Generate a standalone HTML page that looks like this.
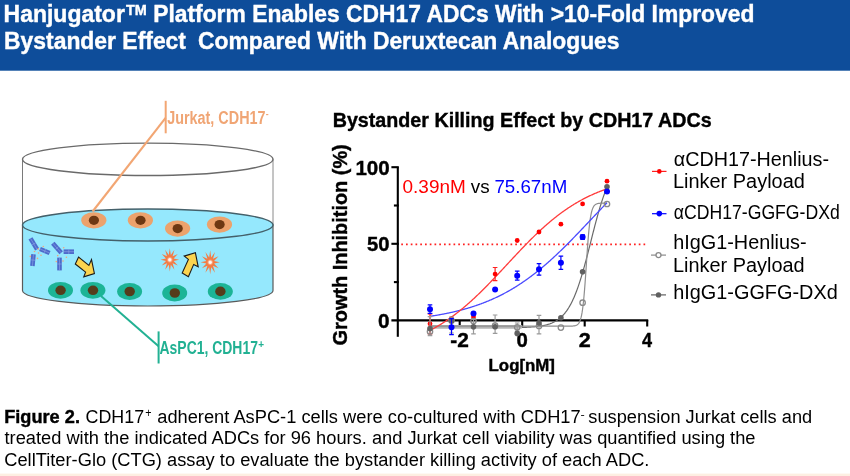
<!DOCTYPE html>
<html><head><meta charset="utf-8"><title>Hanjugator Bystander Effect</title>
<style>
html,body{margin:0;padding:0;background:#fff;}
body{width:850px;height:476px;overflow:hidden;}
svg{display:block;will-change:transform;}
text{font-family:'Liberation Sans', Arial, Helvetica, sans-serif;}
</style></head><body>
<svg width="850" height="476" viewBox="0 0 850 476">
<rect x="0" y="0" width="850" height="476" fill="#fff"/>

<rect x="0" y="0" width="850" height="70.7" fill="#0E4D9A"/>
<text x="3.56" y="21.8" font-size="23.6" font-weight="bold" fill="#fff" stroke="#fff" stroke-width="0.4" textLength="121.29" lengthAdjust="spacingAndGlyphs">Hanjugator</text>
<text x="125.94" y="14.8" font-size="15.2" font-weight="bold" fill="#fff" stroke="#fff" stroke-width="0.4" textLength="20.83" lengthAdjust="spacingAndGlyphs">TM</text>
<text x="153.17" y="21.8" font-size="23.6" font-weight="bold" fill="#fff" stroke="#fff" stroke-width="0.4" textLength="601.23" lengthAdjust="spacingAndGlyphs">Platform Enables CDH17 ADCs With &gt;10-Fold Improved</text>
<text x="4.02" y="48.7" font-size="23.6" font-weight="bold" fill="#fff" stroke="#fff" stroke-width="0.4" textLength="181.96" lengthAdjust="spacingAndGlyphs">Bystander Effect</text>
<text x="198.07" y="48.7" font-size="23.6" font-weight="bold" fill="#fff" stroke="#fff" stroke-width="0.4" textLength="421.47" lengthAdjust="spacingAndGlyphs">Compared With Deruxtecan Analogues</text>
<g>
<line x1="22.5" y1="159.3" x2="22.5" y2="225" stroke="#7a7a7a" stroke-width="1"/>
<line x1="273.0" y1="159.3" x2="273.0" y2="225" stroke="#8a8a8a" stroke-width="1"/>
<ellipse cx="147.75" cy="159.3" rx="125.25" ry="16.2" fill="none" stroke="#6a6a6a" stroke-width="1.4"/>
<path d="M22.5,225 L22.5,290.5 A125.25,15.5 0 0 0 273.0,290.5 L273.0,225 Z" fill="#95E8FD" stroke="#5a5a5a" stroke-width="1.2"/>
<ellipse cx="147.75" cy="225" rx="125.25" ry="16" fill="#95E8FD" stroke="#44606a" stroke-width="1.4"/>
<ellipse cx="93.8" cy="220.3" rx="12.6" ry="8.1" fill="#ECA26C"/><ellipse cx="93.89999999999999" cy="220.3" rx="5.1" ry="4.6" fill="#6E3812"/>
<ellipse cx="140.4" cy="220.3" rx="12.6" ry="8.1" fill="#ECA26C"/><ellipse cx="140.5" cy="220.3" rx="5.1" ry="4.6" fill="#6E3812"/>
<ellipse cx="177.6" cy="228.6" rx="12.6" ry="8.1" fill="#ECA26C"/><ellipse cx="177.7" cy="228.6" rx="5.1" ry="4.6" fill="#6E3812"/>
<ellipse cx="219.5" cy="224.6" rx="12.6" ry="8.1" fill="#ECA26C"/><ellipse cx="219.6" cy="224.6" rx="5.1" ry="4.6" fill="#6E3812"/>
<ellipse cx="60.5" cy="290.3" rx="12.5" ry="8.4" fill="#1CB496"/><ellipse cx="60.6" cy="290.3" rx="5.2" ry="4.8" fill="#553C1C"/>
<ellipse cx="92.9" cy="290.3" rx="12.5" ry="8.4" fill="#1CB496"/><ellipse cx="93.0" cy="290.3" rx="5.2" ry="4.8" fill="#553C1C"/>
<ellipse cx="129.6" cy="291.5" rx="12.5" ry="8.4" fill="#1CB496"/><ellipse cx="129.7" cy="291.5" rx="5.2" ry="4.8" fill="#553C1C"/>
<ellipse cx="174.7" cy="293.0" rx="12.5" ry="8.4" fill="#1CB496"/><ellipse cx="174.79999999999998" cy="293.0" rx="5.2" ry="4.8" fill="#553C1C"/>
<ellipse cx="220.3" cy="291.4" rx="12.5" ry="8.4" fill="#1CB496"/><ellipse cx="220.4" cy="291.4" rx="5.2" ry="4.8" fill="#553C1C"/>
<line x1="30.50" y1="238.40" x2="37.10" y2="249.40" stroke="#4D6BCB" stroke-width="4.6"/><line x1="30.50" y1="238.40" x2="37.10" y2="249.40" stroke="#8FA6E6" stroke-width="0.6"/><line x1="31.83" y1="245.08" x2="35.77" y2="242.72" stroke="#8FA6E6" stroke-width="0.6"/><line x1="40.00" y1="249.00" x2="49.60" y2="253.00" stroke="#4D6BCB" stroke-width="4.6"/><line x1="40.00" y1="249.00" x2="49.60" y2="253.00" stroke="#8FA6E6" stroke-width="0.6"/><line x1="43.92" y1="253.12" x2="45.68" y2="248.88" stroke="#8FA6E6" stroke-width="0.6"/><line x1="33.50" y1="254.20" x2="32.40" y2="266.00" stroke="#4D6BCB" stroke-width="4.6"/><line x1="33.50" y1="254.20" x2="32.40" y2="266.00" stroke="#8FA6E6" stroke-width="0.6"/><line x1="30.66" y1="259.89" x2="35.24" y2="260.31" stroke="#8FA6E6" stroke-width="0.6"/>
<line x1="52.80" y1="243.20" x2="61.20" y2="252.80" stroke="#4D6BCB" stroke-width="4.6"/><line x1="52.80" y1="243.20" x2="61.20" y2="252.80" stroke="#8FA6E6" stroke-width="0.6"/><line x1="55.27" y1="249.51" x2="58.73" y2="246.49" stroke="#8FA6E6" stroke-width="0.6"/><line x1="63.60" y1="251.70" x2="74.00" y2="251.70" stroke="#4D6BCB" stroke-width="4.6"/><line x1="63.60" y1="251.70" x2="74.00" y2="251.70" stroke="#8FA6E6" stroke-width="0.6"/><line x1="68.80" y1="254.00" x2="68.80" y2="249.40" stroke="#8FA6E6" stroke-width="0.6"/><line x1="59.50" y1="257.60" x2="59.50" y2="270.40" stroke="#4D6BCB" stroke-width="4.6"/><line x1="59.50" y1="257.60" x2="59.50" y2="270.40" stroke="#8FA6E6" stroke-width="0.6"/><line x1="57.20" y1="264.00" x2="61.80" y2="264.00" stroke="#8FA6E6" stroke-width="0.6"/>
<circle cx="38.3" cy="248.9" r="0.8" fill="#F2A57A"/>
<circle cx="43.3" cy="246.5" r="0.8" fill="#F2A57A"/>
<circle cx="34.5" cy="251.5" r="0.8" fill="#F2A57A"/>
<circle cx="38.5" cy="253" r="0.8" fill="#F2A57A"/>
<circle cx="30.3" cy="256.4" r="0.8" fill="#F2A57A"/>
<circle cx="37.5" cy="258.4" r="0.8" fill="#F2A57A"/>
<circle cx="41" cy="255.3" r="0.8" fill="#F2A57A"/>
<circle cx="63.7" cy="247.8" r="0.8" fill="#F2A57A"/>
<circle cx="66.4" cy="257.3" r="0.8" fill="#F2A57A"/>
<circle cx="56.3" cy="261.6" r="0.8" fill="#F2A57A"/>
<circle cx="63" cy="261" r="0.8" fill="#F2A57A"/>
<circle cx="57.7" cy="255.6" r="0.8" fill="#F2A57A"/>
<path d="M78.6,257 L75.3,264 L85.6,272.1 L83.75,276.8 L94.4,273.5 L91.5,259.6 L88.9,265.4 Z" fill="#FBD44F" stroke="#1a1a1a" stroke-width="1.1" stroke-linejoin="miter"/>
<path d="M182.2,273 L188.4,276.7 L193.7,264.4 L198.2,266.8 L195.4,252.8 L184.2,256.1 L188.4,259.4 Z" fill="#FBD44F" stroke="#1a1a1a" stroke-width="1.1"/>
<defs><radialGradient id="sg"><stop offset="0" stop-color="#fff"/><stop offset="0.35" stop-color="#fff" stop-opacity="0.9"/><stop offset="1" stop-color="#F47D46" stop-opacity="0"/></radialGradient></defs>
<path d="M169.80,248.20 L170.84,254.97 L174.44,249.75 L172.63,256.26 L177.84,254.00 L173.66,258.51 L179.08,259.80 L173.66,261.09 L177.84,265.60 L172.63,263.34 L174.44,269.85 L170.84,264.63 L169.80,271.40 L168.76,264.63 L165.16,269.85 L166.97,263.34 L161.76,265.60 L165.94,261.09 L160.52,259.80 L165.94,258.51 L161.76,254.00 L166.97,256.26 L165.16,249.75 L168.76,254.97Z" fill="#F47C45"/>
<circle cx="169.8" cy="259.8" r="3.6" fill="url(#sg)"/>
<path d="M210.20,250.30 L211.24,257.47 L215.00,251.91 L213.03,258.76 L218.51,256.30 L214.06,261.01 L219.80,262.30 L214.06,263.59 L218.51,268.30 L213.03,265.84 L215.00,272.69 L211.24,267.13 L210.20,274.30 L209.16,267.13 L205.40,272.69 L207.37,265.84 L201.89,268.30 L206.34,263.59 L200.60,262.30 L206.34,261.01 L201.89,256.30 L207.37,258.76 L205.40,251.91 L209.16,257.47Z" fill="#F47C45"/>
<circle cx="210.2" cy="262.3" r="3.6" fill="url(#sg)"/>
<line x1="92.6" y1="211.5" x2="165.6" y2="117.8" stroke="#F2A673" stroke-width="2.1"/>
<line x1="165.7" y1="100.8" x2="165.7" y2="133.3" stroke="#F2A673" stroke-width="2"/>
<line x1="101" y1="296" x2="158.6" y2="346.2" stroke="#22B193" stroke-width="2"/>
<line x1="158.6" y1="331.4" x2="158.6" y2="363.5" stroke="#22B193" stroke-width="2"/>
<text x="167.18" y="123.7" font-size="18" font-weight="bold" fill="#F0A574" textLength="98.35" lengthAdjust="spacingAndGlyphs">Jurkat, CDH17</text>
<text x="265.86" y="117.3" font-size="9" font-weight="bold" fill="#F0A574" textLength="2.89" lengthAdjust="spacingAndGlyphs">-</text>
<text x="159.55" y="353.8" font-size="18" font-weight="bold" fill="#22B193" textLength="98.36" lengthAdjust="spacingAndGlyphs">AsPC1, CDH17</text>
<text x="258.28" y="348.3" font-size="11" font-weight="bold" fill="#22B193" textLength="5.82" lengthAdjust="spacingAndGlyphs">+</text>
</g>
<g>
<text x="332.69" y="127" font-size="21" font-weight="bold" fill="#000" stroke="#000" stroke-width="0.4" textLength="378.92" lengthAdjust="spacingAndGlyphs">Bystander Killing Effect by CDH17 ADCs</text>
<text x="-345.42" y="347.4" font-size="20" font-weight="bold" fill="#000" stroke="#000" stroke-width="0.4" textLength="201.11" lengthAdjust="spacingAndGlyphs" transform="rotate(-90)">Growth Inhibition (%)</text>
<path d="M397.8,167.2 L397.8,336.8" stroke="#000" stroke-width="2.1" fill="none"/>
<path d="M391.4,320.4 L648.2,320.4" stroke="#000" stroke-width="2.1" fill="none"/>
<path d="M391.4,167.2 L398.8,167.2" stroke="#000" stroke-width="2.1"/>
<path d="M391.4,243.8 L398.8,243.8" stroke="#000" stroke-width="2.1"/>
<path d="M393.9,205.5 L398.8,205.5" stroke="#000" stroke-width="2.1"/>
<path d="M393.9,282.1 L398.8,282.1" stroke="#000" stroke-width="2.1"/>
<path d="M459.7,320 L459.7,326.5" stroke="#000" stroke-width="2.1"/>
<path d="M522.2,320 L522.2,326.5" stroke="#000" stroke-width="2.1"/>
<path d="M584.7,320 L584.7,326.5" stroke="#000" stroke-width="2.1"/>
<path d="M647.2,320 L647.2,326.5" stroke="#000" stroke-width="2.1"/>
<text x="355.4" y="174.7" font-size="20.8" font-weight="bold" fill="#000" stroke="#000" stroke-width="0.4" textLength="34.34" lengthAdjust="spacingAndGlyphs">100</text>
<text x="366.88" y="250.9" font-size="20.8" font-weight="bold" fill="#000" stroke="#000" stroke-width="0.4" textLength="22.56" lengthAdjust="spacingAndGlyphs">50</text>
<text x="378.08" y="327.7" font-size="20.8" font-weight="bold" fill="#000" stroke="#000" stroke-width="0.4" textLength="11.58" lengthAdjust="spacingAndGlyphs">0</text>
<text x="450.19" y="347.3" font-size="20.8" font-weight="bold" fill="#000" stroke="#000" stroke-width="0.4" textLength="18.55" lengthAdjust="spacingAndGlyphs">-2</text>
<text x="516.39" y="347.3" font-size="20.8" font-weight="bold" fill="#000" stroke="#000" stroke-width="0.4" textLength="11.34" lengthAdjust="spacingAndGlyphs">0</text>
<text x="578.75" y="347.3" font-size="20.8" font-weight="bold" fill="#000" stroke="#000" stroke-width="0.4" textLength="12.01" lengthAdjust="spacingAndGlyphs">2</text>
<text x="641.93" y="347.3" font-size="20.8" font-weight="bold" fill="#000" stroke="#000" stroke-width="0.4" textLength="10.07" lengthAdjust="spacingAndGlyphs">4</text>
<text x="488.57" y="371" font-size="16.2" font-weight="bold" fill="#000" stroke="#000" stroke-width="0.4" textLength="66.37" lengthAdjust="spacingAndGlyphs">Log[nM]</text>
<path d="M401.25,244.3 L645.3,244.3" stroke="#FF2020" stroke-width="1.7" stroke-dasharray="1.7 3.05" fill="none"/>
<text x="402.56" y="192.8" font-size="18.2" fill="#FF0000" textLength="63.19" lengthAdjust="spacingAndGlyphs">0.39nM</text>
<text x="470.74" y="192.8" font-size="18.2" fill="#000" textLength="18.85" lengthAdjust="spacingAndGlyphs">vs</text>
<text x="494.44" y="192.8" font-size="18.2" fill="#0000FF" textLength="72.79" lengthAdjust="spacingAndGlyphs">75.67nM</text>
<path d="M430.0,327.76 L430.5,327.76 L431.0,327.76 L431.5,327.76 L432.0,327.76 L432.5,327.76 L433.0,327.76 L433.5,327.76 L434.0,327.76 L434.5,327.76 L435.0,327.76 L435.5,327.76 L436.0,327.76 L436.5,327.76 L437.0,327.76 L437.5,327.76 L438.0,327.76 L438.5,327.76 L439.0,327.76 L439.5,327.76 L440.0,327.76 L440.5,327.76 L441.0,327.76 L441.5,327.76 L442.0,327.76 L442.5,327.76 L443.0,327.76 L443.5,327.76 L444.0,327.76 L444.5,327.76 L445.0,327.76 L445.5,327.76 L446.0,327.76 L446.5,327.76 L447.0,327.76 L447.5,327.76 L448.0,327.76 L448.5,327.76 L449.0,327.76 L449.5,327.76 L450.0,327.76 L450.5,327.76 L451.0,327.76 L451.5,327.76 L452.0,327.76 L452.5,327.76 L453.0,327.76 L453.5,327.76 L454.0,327.76 L454.5,327.76 L455.0,327.76 L455.5,327.76 L456.0,327.76 L456.5,327.76 L457.0,327.76 L457.5,327.76 L458.0,327.76 L458.5,327.76 L459.0,327.76 L459.5,327.76 L460.0,327.76 L460.5,327.76 L461.0,327.76 L461.5,327.76 L462.0,327.76 L462.5,327.76 L463.0,327.76 L463.5,327.76 L464.0,327.76 L464.5,327.75 L465.0,327.75 L465.5,327.75 L466.0,327.75 L466.5,327.75 L467.0,327.75 L467.5,327.75 L468.0,327.75 L468.5,327.75 L469.0,327.75 L469.5,327.75 L470.0,327.75 L470.5,327.75 L471.0,327.75 L471.5,327.75 L472.0,327.75 L472.5,327.75 L473.0,327.75 L473.5,327.75 L474.0,327.75 L474.5,327.75 L475.0,327.75 L475.5,327.75 L476.0,327.75 L476.5,327.75 L477.0,327.75 L477.5,327.75 L478.0,327.75 L478.5,327.75 L479.0,327.75 L479.5,327.75 L480.0,327.75 L480.5,327.75 L481.0,327.75 L481.5,327.75 L482.0,327.75 L482.5,327.75 L483.0,327.75 L483.5,327.75 L484.0,327.75 L484.5,327.75 L485.0,327.75 L485.5,327.75 L486.0,327.75 L486.5,327.74 L487.0,327.74 L487.5,327.74 L488.0,327.74 L488.5,327.74 L489.0,327.74 L489.5,327.74 L490.0,327.74 L490.5,327.74 L491.0,327.74 L491.5,327.74 L492.0,327.74 L492.5,327.74 L493.0,327.73 L493.5,327.73 L494.0,327.73 L494.5,327.73 L495.0,327.73 L495.5,327.73 L496.0,327.73 L496.5,327.73 L497.0,327.73 L497.5,327.72 L498.0,327.72 L498.5,327.72 L499.0,327.72 L499.5,327.72 L500.0,327.72 L500.5,327.71 L501.0,327.71 L501.5,327.71 L502.0,327.71 L502.5,327.70 L503.0,327.70 L503.5,327.70 L504.0,327.70 L504.5,327.69 L505.0,327.69 L505.5,327.69 L506.0,327.68 L506.5,327.68 L507.0,327.68 L507.5,327.67 L508.0,327.67 L508.5,327.67 L509.0,327.66 L509.5,327.66 L510.0,327.65 L510.5,327.65 L511.0,327.64 L511.5,327.64 L512.0,327.63 L512.5,327.63 L513.0,327.62 L513.5,327.61 L514.0,327.61 L514.5,327.60 L515.0,327.59 L515.5,327.58 L516.0,327.58 L516.5,327.57 L517.0,327.56 L517.5,327.55 L518.0,327.54 L518.5,327.53 L519.0,327.52 L519.5,327.51 L520.0,327.50 L520.5,327.49 L521.0,327.47 L521.5,327.46 L522.0,327.45 L522.5,327.43 L523.0,327.42 L523.5,327.40 L524.0,327.38 L524.5,327.36 L525.0,327.35 L525.5,327.33 L526.0,327.31 L526.5,327.29 L527.0,327.26 L527.5,327.24 L528.0,327.22 L528.5,327.19 L529.0,327.17 L529.5,327.14 L530.0,327.11 L530.5,327.08 L531.0,327.05 L531.5,327.01 L532.0,326.98 L532.5,326.94 L533.0,326.90 L533.5,326.86 L534.0,326.82 L534.5,326.78 L535.0,326.73 L535.5,326.69 L536.0,326.64 L536.5,326.58 L537.0,326.53 L537.5,326.47 L538.0,326.41 L538.5,326.35 L539.0,326.28 L539.5,326.22 L540.0,326.14 L540.5,326.07 L541.0,325.99 L541.5,325.91 L542.0,325.82 L542.5,325.73 L543.0,325.64 L543.5,325.54 L544.0,325.44 L544.5,325.33 L545.0,325.22 L545.5,325.10 L546.0,324.98 L546.5,324.85 L547.0,324.72 L547.5,324.58 L548.0,324.43 L548.5,324.28 L549.0,324.12 L549.5,323.95 L550.0,323.78 L550.5,323.59 L551.0,323.40 L551.5,323.20 L552.0,323.00 L552.5,322.78 L553.0,322.55 L553.5,322.32 L554.0,322.07 L554.5,321.81 L555.0,321.54 L555.5,321.26 L556.0,320.97 L556.5,320.66 L557.0,320.34 L557.5,320.01 L558.0,319.66 L558.5,319.30 L559.0,318.93 L559.5,318.53 L560.0,318.12 L560.5,317.70 L561.0,317.26 L561.5,316.79 L562.0,316.31 L562.5,315.81 L563.0,315.29 L563.5,314.75 L564.0,314.19 L564.5,313.60 L565.0,313.00 L565.5,312.37 L566.0,311.71 L566.5,311.03 L567.0,310.32 L567.5,309.59 L568.0,308.83 L568.5,308.05 L569.0,307.23 L569.5,306.39 L570.0,305.51 L570.5,304.61 L571.0,303.67 L571.5,302.71 L572.0,301.71 L572.5,300.68 L573.0,299.61 L573.5,298.52 L574.0,297.39 L574.5,296.22 L575.0,295.02 L575.5,293.79 L576.0,292.52 L576.5,291.22 L577.0,289.88 L577.5,288.50 L578.0,287.10 L578.5,285.65 L579.0,284.18 L579.5,282.67 L580.0,281.12 L580.5,279.54 L581.0,277.94 L581.5,276.30 L582.0,274.62 L582.5,272.92 L583.0,271.19 L583.5,269.44 L584.0,267.65 L584.5,265.85 L585.0,264.01 L585.5,262.16 L586.0,260.29 L586.5,258.40 L587.0,256.49 L587.5,254.56 L588.0,252.62 L588.5,250.67 L589.0,248.72 L589.5,246.75 L590.0,244.78 L590.5,242.80 L591.0,240.83 L591.5,238.85 L592.0,236.88 L592.5,234.91 L593.0,232.95 L593.5,231.00 L594.0,229.06 L594.5,227.13 L595.0,225.22 L595.5,223.32 L596.0,221.45 L596.5,219.59 L597.0,217.75 L597.5,215.94 L598.0,214.15 L598.5,212.39 L599.0,210.65 L599.5,208.95 L600.0,207.27 L600.5,205.62 L601.0,204.01 L601.5,202.43 L602.0,200.87 L602.5,199.36 L603.0,197.87 L603.5,196.42 L604.0,195.01 L604.5,193.63 L605.0,192.28 L605.5,190.97 L606.0,189.70 L606.5,188.46 L607.0,187.25" fill="none" stroke="#6a6a6a" stroke-width="1.2"/>
<path d="M430,326.7 L522,326.7" stroke="#B4B4B4" stroke-width="3.6" fill="none"/>
<path d="M430.0,326.20 L430.5,326.20 L431.0,326.20 L431.5,326.20 L432.0,326.20 L432.5,326.20 L433.0,326.20 L433.5,326.20 L434.0,326.20 L434.5,326.20 L435.0,326.20 L435.5,326.20 L436.0,326.20 L436.5,326.20 L437.0,326.20 L437.5,326.20 L438.0,326.20 L438.5,326.20 L439.0,326.20 L439.5,326.20 L440.0,326.20 L440.5,326.20 L441.0,326.20 L441.5,326.20 L442.0,326.20 L442.5,326.20 L443.0,326.20 L443.5,326.20 L444.0,326.20 L444.5,326.20 L445.0,326.20 L445.5,326.20 L446.0,326.20 L446.5,326.20 L447.0,326.20 L447.5,326.20 L448.0,326.20 L448.5,326.20 L449.0,326.20 L449.5,326.20 L450.0,326.20 L450.5,326.20 L451.0,326.20 L451.5,326.20 L452.0,326.20 L452.5,326.20 L453.0,326.20 L453.5,326.20 L454.0,326.20 L454.5,326.20 L455.0,326.20 L455.5,326.20 L456.0,326.20 L456.5,326.20 L457.0,326.20 L457.5,326.20 L458.0,326.20 L458.5,326.20 L459.0,326.20 L459.5,326.20 L460.0,326.20 L460.5,326.20 L461.0,326.20 L461.5,326.20 L462.0,326.20 L462.5,326.20 L463.0,326.20 L463.5,326.20 L464.0,326.20 L464.5,326.20 L465.0,326.20 L465.5,326.20 L466.0,326.20 L466.5,326.20 L467.0,326.20 L467.5,326.20 L468.0,326.20 L468.5,326.20 L469.0,326.20 L469.5,326.20 L470.0,326.20 L470.5,326.20 L471.0,326.20 L471.5,326.20 L472.0,326.20 L472.5,326.20 L473.0,326.20 L473.5,326.20 L474.0,326.20 L474.5,326.20 L475.0,326.20 L475.5,326.20 L476.0,326.20 L476.5,326.20 L477.0,326.20 L477.5,326.20 L478.0,326.20 L478.5,326.20 L479.0,326.20 L479.5,326.20 L480.0,326.20 L480.5,326.20 L481.0,326.20 L481.5,326.20 L482.0,326.20 L482.5,326.20 L483.0,326.20 L483.5,326.20 L484.0,326.20 L484.5,326.20 L485.0,326.20 L485.5,326.20 L486.0,326.20 L486.5,326.20 L487.0,326.20 L487.5,326.20 L488.0,326.20 L488.5,326.20 L489.0,326.20 L489.5,326.20 L490.0,326.20 L490.5,326.20 L491.0,326.20 L491.5,326.20 L492.0,326.20 L492.5,326.20 L493.0,326.20 L493.5,326.20 L494.0,326.20 L494.5,326.20 L495.0,326.20 L495.5,326.20 L496.0,326.20 L496.5,326.20 L497.0,326.20 L497.5,326.20 L498.0,326.20 L498.5,326.20 L499.0,326.20 L499.5,326.20 L500.0,326.20 L500.5,326.20 L501.0,326.20 L501.5,326.20 L502.0,326.20 L502.5,326.20 L503.0,326.20 L503.5,326.20 L504.0,326.20 L504.5,326.20 L505.0,326.20 L505.5,326.20 L506.0,326.20 L506.5,326.20 L507.0,326.20 L507.5,326.20 L508.0,326.20 L508.5,326.20 L509.0,326.20 L509.5,326.20 L510.0,326.20 L510.5,326.20 L511.0,326.20 L511.5,326.20 L512.0,326.20 L512.5,326.20 L513.0,326.20 L513.5,326.20 L514.0,326.20 L514.5,326.20 L515.0,326.20 L515.5,326.20 L516.0,326.20 L516.5,326.20 L517.0,326.20 L517.5,326.20 L518.0,326.20 L518.5,326.20 L519.0,326.20 L519.5,326.20 L520.0,326.20 L520.5,326.20 L521.0,326.20 L521.5,326.20 L522.0,326.20 L522.5,326.20 L523.0,326.20 L523.5,326.20 L524.0,326.20 L524.5,326.20 L525.0,326.20 L525.5,326.20 L526.0,326.20 L526.5,326.20 L527.0,326.20 L527.5,326.20 L528.0,326.20 L528.5,326.20 L529.0,326.20 L529.5,326.20 L530.0,326.20 L530.5,326.20 L531.0,326.20 L531.5,326.20 L532.0,326.20 L532.5,326.20 L533.0,326.20 L533.5,326.20 L534.0,326.20 L534.5,326.20 L535.0,326.20 L535.5,326.20 L536.0,326.20 L536.5,326.20 L537.0,326.20 L537.5,326.20 L538.0,326.20 L538.5,326.20 L539.0,326.20 L539.5,326.20 L540.0,326.20 L540.5,326.20 L541.0,326.20 L541.5,326.20 L542.0,326.20 L542.5,326.20 L543.0,326.20 L543.5,326.20 L544.0,326.20 L544.5,326.20 L545.0,326.20 L545.5,326.20 L546.0,326.20 L546.5,326.20 L547.0,326.20 L547.5,326.20 L548.0,326.20 L548.5,326.20 L549.0,326.20 L549.5,326.20 L550.0,326.20 L550.5,326.20 L551.0,326.20 L551.5,326.20 L552.0,326.20 L552.5,326.20 L553.0,326.20 L553.5,326.20 L554.0,326.20 L554.5,326.20 L555.0,326.20 L555.5,326.20 L556.0,326.20 L556.5,326.20 L557.0,326.20 L557.5,326.20 L558.0,326.20 L558.5,326.20 L559.0,326.20 L559.5,326.20 L560.0,326.20 L560.5,326.20 L561.0,326.20 L561.5,326.20 L562.0,326.20 L562.5,326.20 L563.0,326.20 L563.5,326.20 L564.0,326.20 L564.5,326.20 L565.0,326.20 L565.5,326.20 L566.0,326.19 L566.5,326.19 L567.0,326.19 L567.5,326.19 L568.0,326.18 L568.5,326.18 L569.0,326.17 L569.5,326.17 L570.0,326.16 L570.5,326.15 L571.0,326.13 L571.5,326.11 L572.0,326.09 L572.5,326.06 L573.0,326.02 L573.5,325.96 L574.0,325.90 L574.5,325.82 L575.0,325.71 L575.5,325.58 L576.0,325.41 L576.5,325.19 L577.0,324.91 L577.5,324.56 L578.0,324.12 L578.5,323.55 L579.0,322.84 L579.5,321.95 L580.0,320.83 L580.5,319.42 L581.0,317.68 L581.5,315.53 L582.0,312.91 L582.5,309.73 L583.0,305.93 L583.5,301.45 L584.0,296.28 L584.5,290.42 L585.0,283.94 L585.5,276.94 L586.0,269.59 L586.5,262.10 L587.0,254.68 L587.5,247.55 L588.0,240.88 L588.5,234.81 L589.0,229.42 L589.5,224.72 L590.0,220.71 L590.5,217.34 L591.0,214.55 L591.5,212.25 L592.0,210.39 L592.5,208.88 L593.0,207.68 L593.5,206.72 L594.0,205.95 L594.5,205.34 L595.0,204.86 L595.5,204.49 L596.0,204.19 L596.5,203.95 L597.0,203.77 L597.5,203.62 L598.0,203.51 L598.5,203.42 L599.0,203.35 L599.5,203.29 L600.0,203.25 L600.5,203.22 L601.0,203.19 L601.5,203.17 L602.0,203.15 L602.5,203.14 L603.0,203.13 L603.5,203.12 L604.0,203.12 L604.5,203.11 L605.0,203.11 L605.5,203.10 L606.0,203.10 L606.5,203.10 L607.0,203.10" fill="none" stroke="#8E8E8E" stroke-width="1.2"/>
<path d="M430.0,316.30 L430.5,316.22 L431.0,316.15 L431.5,316.07 L432.0,316.00 L432.5,315.92 L433.0,315.84 L433.5,315.76 L434.0,315.68 L434.5,315.60 L435.0,315.52 L435.5,315.44 L436.0,315.36 L436.5,315.27 L437.0,315.19 L437.5,315.10 L438.0,315.02 L438.5,314.93 L439.0,314.84 L439.5,314.75 L440.0,314.67 L440.5,314.58 L441.0,314.48 L441.5,314.39 L442.0,314.30 L442.5,314.21 L443.0,314.11 L443.5,314.02 L444.0,313.92 L444.5,313.82 L445.0,313.73 L445.5,313.63 L446.0,313.53 L446.5,313.43 L447.0,313.33 L447.5,313.22 L448.0,313.12 L448.5,313.02 L449.0,312.91 L449.5,312.81 L450.0,312.70 L450.5,312.59 L451.0,312.48 L451.5,312.37 L452.0,312.26 L452.5,312.15 L453.0,312.03 L453.5,311.92 L454.0,311.80 L454.5,311.69 L455.0,311.57 L455.5,311.45 L456.0,311.33 L456.5,311.21 L457.0,311.09 L457.5,310.97 L458.0,310.84 L458.5,310.72 L459.0,310.59 L459.5,310.47 L460.0,310.34 L460.5,310.21 L461.0,310.08 L461.5,309.95 L462.0,309.81 L462.5,309.68 L463.0,309.54 L463.5,309.41 L464.0,309.27 L464.5,309.13 L465.0,308.99 L465.5,308.85 L466.0,308.71 L466.5,308.56 L467.0,308.42 L467.5,308.27 L468.0,308.12 L468.5,307.97 L469.0,307.82 L469.5,307.67 L470.0,307.52 L470.5,307.36 L471.0,307.21 L471.5,307.05 L472.0,306.89 L472.5,306.73 L473.0,306.57 L473.5,306.41 L474.0,306.25 L474.5,306.08 L475.0,305.92 L475.5,305.75 L476.0,305.58 L476.5,305.41 L477.0,305.23 L477.5,305.06 L478.0,304.89 L478.5,304.71 L479.0,304.53 L479.5,304.35 L480.0,304.17 L480.5,303.99 L481.0,303.80 L481.5,303.62 L482.0,303.43 L482.5,303.24 L483.0,303.05 L483.5,302.86 L484.0,302.67 L484.5,302.47 L485.0,302.28 L485.5,302.08 L486.0,301.88 L486.5,301.68 L487.0,301.47 L487.5,301.27 L488.0,301.06 L488.5,300.85 L489.0,300.65 L489.5,300.43 L490.0,300.22 L490.5,300.01 L491.0,299.79 L491.5,299.57 L492.0,299.35 L492.5,299.13 L493.0,298.91 L493.5,298.68 L494.0,298.46 L494.5,298.23 L495.0,298.00 L495.5,297.77 L496.0,297.53 L496.5,297.30 L497.0,297.06 L497.5,296.82 L498.0,296.58 L498.5,296.34 L499.0,296.09 L499.5,295.85 L500.0,295.60 L500.5,295.35 L501.0,295.10 L501.5,294.84 L502.0,294.59 L502.5,294.33 L503.0,294.07 L503.5,293.81 L504.0,293.54 L504.5,293.28 L505.0,293.01 L505.5,292.74 L506.0,292.47 L506.5,292.20 L507.0,291.93 L507.5,291.65 L508.0,291.37 L508.5,291.09 L509.0,290.81 L509.5,290.52 L510.0,290.24 L510.5,289.95 L511.0,289.66 L511.5,289.36 L512.0,289.07 L512.5,288.77 L513.0,288.47 L513.5,288.17 L514.0,287.87 L514.5,287.57 L515.0,287.26 L515.5,286.95 L516.0,286.64 L516.5,286.33 L517.0,286.01 L517.5,285.70 L518.0,285.38 L518.5,285.06 L519.0,284.73 L519.5,284.41 L520.0,284.08 L520.5,283.75 L521.0,283.42 L521.5,283.09 L522.0,282.75 L522.5,282.41 L523.0,282.07 L523.5,281.73 L524.0,281.39 L524.5,281.04 L525.0,280.69 L525.5,280.34 L526.0,279.99 L526.5,279.64 L527.0,279.28 L527.5,278.92 L528.0,278.56 L528.5,278.20 L529.0,277.83 L529.5,277.47 L530.0,277.10 L530.5,276.73 L531.0,276.36 L531.5,275.98 L532.0,275.60 L532.5,275.22 L533.0,274.84 L533.5,274.46 L534.0,274.07 L534.5,273.69 L535.0,273.30 L535.5,272.91 L536.0,272.51 L536.5,272.12 L537.0,271.72 L537.5,271.32 L538.0,270.92 L538.5,270.51 L539.0,270.11 L539.5,269.70 L540.0,269.29 L540.5,268.88 L541.0,268.47 L541.5,268.05 L542.0,267.63 L542.5,267.21 L543.0,266.79 L543.5,266.37 L544.0,265.94 L544.5,265.52 L545.0,265.09 L545.5,264.66 L546.0,264.22 L546.5,263.79 L547.0,263.35 L547.5,262.91 L548.0,262.47 L548.5,262.03 L549.0,261.58 L549.5,261.14 L550.0,260.69 L550.5,260.24 L551.0,259.79 L551.5,259.34 L552.0,258.88 L552.5,258.42 L553.0,257.97 L553.5,257.51 L554.0,257.04 L554.5,256.58 L555.0,256.12 L555.5,255.65 L556.0,255.18 L556.5,254.71 L557.0,254.24 L557.5,253.77 L558.0,253.29 L558.5,252.81 L559.0,252.34 L559.5,251.86 L560.0,251.38 L560.5,250.89 L561.0,250.41 L561.5,249.92 L562.0,249.44 L562.5,248.95 L563.0,248.46 L563.5,247.97 L564.0,247.47 L564.5,246.98 L565.0,246.49 L565.5,245.99 L566.0,245.49 L566.5,244.99 L567.0,244.49 L567.5,243.99 L568.0,243.49 L568.5,242.99 L569.0,242.48 L569.5,241.97 L570.0,241.47 L570.5,240.96 L571.0,240.45 L571.5,239.94 L572.0,239.43 L572.5,238.92 L573.0,238.40 L573.5,237.89 L574.0,237.37 L574.5,236.86 L575.0,236.34 L575.5,235.82 L576.0,235.31 L576.5,234.79 L577.0,234.27 L577.5,233.75 L578.0,233.23 L578.5,232.70 L579.0,232.18 L579.5,231.66 L580.0,231.13 L580.5,230.61 L581.0,230.08 L581.5,229.56 L582.0,229.03 L582.5,228.51 L583.0,227.98 L583.5,227.45 L584.0,226.92 L584.5,226.40 L585.0,225.87 L585.5,225.34 L586.0,224.81 L586.5,224.28 L587.0,223.75 L587.5,223.22 L588.0,222.69 L588.5,222.16 L589.0,221.63 L589.5,221.10 L590.0,220.57 L590.5,220.04 L591.0,219.51 L591.5,218.98 L592.0,218.45 L592.5,217.92 L593.0,217.39 L593.5,216.86 L594.0,216.33 L594.5,215.80 L595.0,215.27 L595.5,214.74 L596.0,214.21 L596.5,213.68 L597.0,213.15 L597.5,212.63 L598.0,212.10 L598.5,211.57 L599.0,211.04 L599.5,210.52 L600.0,209.99 L600.5,209.47 L601.0,208.94 L601.5,208.42 L602.0,207.90 L602.5,207.37 L603.0,206.85 L603.5,206.33 L604.0,205.81 L604.5,205.29 L605.0,204.77 L605.5,204.25 L606.0,203.73 L606.5,203.21 L607.0,202.70" fill="none" stroke="#4A4AFF" stroke-width="1.3"/>
<path d="M430.0,330.43 L430.5,330.17 L431.0,329.90 L431.5,329.64 L432.0,329.37 L432.5,329.10 L433.0,328.83 L433.5,328.55 L434.0,328.27 L434.5,327.99 L435.0,327.71 L435.5,327.43 L436.0,327.14 L436.5,326.85 L437.0,326.56 L437.5,326.27 L438.0,325.97 L438.5,325.68 L439.0,325.38 L439.5,325.07 L440.0,324.77 L440.5,324.46 L441.0,324.15 L441.5,323.84 L442.0,323.52 L442.5,323.21 L443.0,322.89 L443.5,322.57 L444.0,322.24 L444.5,321.92 L445.0,321.59 L445.5,321.26 L446.0,320.92 L446.5,320.59 L447.0,320.25 L447.5,319.91 L448.0,319.56 L448.5,319.22 L449.0,318.87 L449.5,318.52 L450.0,318.16 L450.5,317.81 L451.0,317.45 L451.5,317.09 L452.0,316.73 L452.5,316.36 L453.0,315.99 L453.5,315.62 L454.0,315.25 L454.5,314.87 L455.0,314.50 L455.5,314.12 L456.0,313.73 L456.5,313.35 L457.0,312.96 L457.5,312.57 L458.0,312.18 L458.5,311.79 L459.0,311.39 L459.5,310.99 L460.0,310.59 L460.5,310.18 L461.0,309.78 L461.5,309.37 L462.0,308.96 L462.5,308.54 L463.0,308.13 L463.5,307.71 L464.0,307.29 L464.5,306.87 L465.0,306.44 L465.5,306.01 L466.0,305.58 L466.5,305.15 L467.0,304.72 L467.5,304.28 L468.0,303.84 L468.5,303.40 L469.0,302.96 L469.5,302.51 L470.0,302.06 L470.5,301.62 L471.0,301.16 L471.5,300.71 L472.0,300.25 L472.5,299.80 L473.0,299.33 L473.5,298.87 L474.0,298.41 L474.5,297.94 L475.0,297.47 L475.5,297.00 L476.0,296.53 L476.5,296.06 L477.0,295.58 L477.5,295.10 L478.0,294.62 L478.5,294.14 L479.0,293.66 L479.5,293.17 L480.0,292.68 L480.5,292.20 L481.0,291.70 L481.5,291.21 L482.0,290.72 L482.5,290.22 L483.0,289.72 L483.5,289.23 L484.0,288.72 L484.5,288.22 L485.0,287.72 L485.5,287.21 L486.0,286.71 L486.5,286.20 L487.0,285.69 L487.5,285.18 L488.0,284.67 L488.5,284.15 L489.0,283.64 L489.5,283.12 L490.0,282.60 L490.5,282.09 L491.0,281.57 L491.5,281.05 L492.0,280.52 L492.5,280.00 L493.0,279.48 L493.5,278.95 L494.0,278.42 L494.5,277.90 L495.0,277.37 L495.5,276.84 L496.0,276.31 L496.5,275.78 L497.0,275.25 L497.5,274.72 L498.0,274.19 L498.5,273.65 L499.0,273.12 L499.5,272.58 L500.0,272.05 L500.5,271.51 L501.0,270.98 L501.5,270.44 L502.0,269.90 L502.5,269.37 L503.0,268.83 L503.5,268.29 L504.0,267.75 L504.5,267.22 L505.0,266.68 L505.5,266.14 L506.0,265.60 L506.5,265.06 L507.0,264.52 L507.5,263.98 L508.0,263.44 L508.5,262.91 L509.0,262.37 L509.5,261.83 L510.0,261.29 L510.5,260.75 L511.0,260.21 L511.5,259.68 L512.0,259.14 L512.5,258.60 L513.0,258.07 L513.5,257.53 L514.0,257.00 L514.5,256.46 L515.0,255.93 L515.5,255.39 L516.0,254.86 L516.5,254.33 L517.0,253.79 L517.5,253.26 L518.0,252.73 L518.5,252.20 L519.0,251.68 L519.5,251.15 L520.0,250.62 L520.5,250.10 L521.0,249.57 L521.5,249.05 L522.0,248.52 L522.5,248.00 L523.0,247.48 L523.5,246.96 L524.0,246.44 L524.5,245.93 L525.0,245.41 L525.5,244.90 L526.0,244.38 L526.5,243.87 L527.0,243.36 L527.5,242.85 L528.0,242.34 L528.5,241.84 L529.0,241.33 L529.5,240.83 L530.0,240.33 L530.5,239.83 L531.0,239.33 L531.5,238.83 L532.0,238.33 L532.5,237.84 L533.0,237.35 L533.5,236.86 L534.0,236.37 L534.5,235.88 L535.0,235.40 L535.5,234.91 L536.0,234.43 L536.5,233.95 L537.0,233.48 L537.5,233.00 L538.0,232.53 L538.5,232.05 L539.0,231.58 L539.5,231.12 L540.0,230.65 L540.5,230.19 L541.0,229.72 L541.5,229.26 L542.0,228.81 L542.5,228.35 L543.0,227.90 L543.5,227.45 L544.0,227.00 L544.5,226.55 L545.0,226.11 L545.5,225.66 L546.0,225.22 L546.5,224.78 L547.0,224.35 L547.5,223.91 L548.0,223.48 L548.5,223.05 L549.0,222.63 L549.5,222.20 L550.0,221.78 L550.5,221.36 L551.0,220.94 L551.5,220.53 L552.0,220.11 L552.5,219.70 L553.0,219.29 L553.5,218.89 L554.0,218.48 L554.5,218.08 L555.0,217.68 L555.5,217.29 L556.0,216.89 L556.5,216.50 L557.0,216.11 L557.5,215.73 L558.0,215.34 L558.5,214.96 L559.0,214.58 L559.5,214.20 L560.0,213.83 L560.5,213.46 L561.0,213.09 L561.5,212.72 L562.0,212.35 L562.5,211.99 L563.0,211.63 L563.5,211.27 L564.0,210.92 L564.5,210.57 L565.0,210.22 L565.5,209.87 L566.0,209.52 L566.5,209.18 L567.0,208.84 L567.5,208.50 L568.0,208.16 L568.5,207.83 L569.0,207.50 L569.5,207.17 L570.0,206.85 L570.5,206.52 L571.0,206.20 L571.5,205.88 L572.0,205.57 L572.5,205.25 L573.0,204.94 L573.5,204.63 L574.0,204.32 L574.5,204.02 L575.0,203.72 L575.5,203.42 L576.0,203.12 L576.5,202.83 L577.0,202.53 L577.5,202.24 L578.0,201.95 L578.5,201.67 L579.0,201.38 L579.5,201.10 L580.0,200.82 L580.5,200.55 L581.0,200.27 L581.5,200.00 L582.0,199.73 L582.5,199.46 L583.0,199.20 L583.5,198.93 L584.0,198.67 L584.5,198.41 L585.0,198.16 L585.5,197.90 L586.0,197.65 L586.5,197.40 L587.0,197.15 L587.5,196.91 L588.0,196.66 L588.5,196.42 L589.0,196.18 L589.5,195.94 L590.0,195.71 L590.5,195.48 L591.0,195.24 L591.5,195.02 L592.0,194.79 L592.5,194.56 L593.0,194.34 L593.5,194.12 L594.0,193.90 L594.5,193.68 L595.0,193.47 L595.5,193.25 L596.0,193.04 L596.5,192.83 L597.0,192.63 L597.5,192.42 L598.0,192.22 L598.5,192.02 L599.0,191.82 L599.5,191.62 L600.0,191.42 L600.5,191.23 L601.0,191.04 L601.5,190.84 L602.0,190.66 L602.5,190.47 L603.0,190.28 L603.5,190.10 L604.0,189.92 L604.5,189.74 L605.0,189.56 L605.5,189.38 L606.0,189.21 L606.5,189.04 L607.0,188.86" fill="none" stroke="#FF3A3A" stroke-width="1.3"/>
<path d="M430,313.9 L430,333.8 M427.7,313.9 L432.3,313.9 M427.7,333.8 L432.3,333.8" stroke="#FF2020" stroke-width="1.2" fill="none"/>
<path d="M495.1,267.5 L495.1,280.7 M492.8,267.5 L497.40000000000003,267.5 M492.8,280.7 L497.40000000000003,280.7" stroke="#FF2020" stroke-width="1.2" fill="none"/>
<circle cx="430" cy="323.8" r="2.4" fill="#FF0000"/>
<circle cx="451.5" cy="318.6" r="2.4" fill="#FF0000"/>
<circle cx="473.5" cy="316.9" r="2.4" fill="#FF0000"/>
<circle cx="495.1" cy="274.1" r="2.4" fill="#FF0000"/>
<circle cx="517.2" cy="240.5" r="2.4" fill="#FF0000"/>
<circle cx="539" cy="232" r="2.4" fill="#FF0000"/>
<circle cx="560.9" cy="224.2" r="2.4" fill="#FF0000"/>
<circle cx="582.6" cy="203.9" r="2.4" fill="#FF0000"/>
<circle cx="607" cy="181.2" r="2.4" fill="#FF0000"/>
<path d="M430,316.7 L430,335.7 M427.7,316.7 L432.3,316.7 M427.7,335.7 L432.3,335.7" stroke="#9a9a9a" stroke-width="1.2" fill="none"/>
<path d="M451.5,317 L451.5,333 M449.2,317 L453.8,317 M449.2,333 L453.8,333" stroke="#9a9a9a" stroke-width="1.2" fill="none"/>
<path d="M473.5,319.3 L473.5,333.9 M471.2,319.3 L475.8,319.3 M471.2,333.9 L475.8,333.9" stroke="#9a9a9a" stroke-width="1.2" fill="none"/>
<path d="M495.1,315 L495.1,333.4 M492.8,315 L497.40000000000003,315 M492.8,333.4 L497.40000000000003,333.4" stroke="#9a9a9a" stroke-width="1.2" fill="none"/>
<path d="M517.2,323 L517.2,331 M514.9000000000001,323 L519.5,323 M514.9000000000001,331 L519.5,331" stroke="#9a9a9a" stroke-width="1.2" fill="none"/>
<path d="M539,315.3 L539,333.8 M536.7,315.3 L541.3,315.3 M536.7,333.8 L541.3,333.8" stroke="#9a9a9a" stroke-width="1.2" fill="none"/>
<circle cx="430" cy="331.5" r="2.7" fill="none" stroke="#8a8a8a" stroke-width="1.3"/>
<circle cx="451.5" cy="320.5" r="2.7" fill="none" stroke="#8a8a8a" stroke-width="1.3"/>
<circle cx="473.5" cy="321" r="2.7" fill="none" stroke="#8a8a8a" stroke-width="1.3"/>
<circle cx="495.1" cy="325.5" r="2.7" fill="none" stroke="#8a8a8a" stroke-width="1.3"/>
<circle cx="517.2" cy="327.3" r="2.7" fill="none" stroke="#8a8a8a" stroke-width="1.3"/>
<circle cx="539" cy="326" r="2.7" fill="none" stroke="#8a8a8a" stroke-width="1.3"/>
<circle cx="560.9" cy="327.6" r="2.7" fill="none" stroke="#8a8a8a" stroke-width="1.3"/>
<circle cx="582.6" cy="302.7" r="2.7" fill="none" stroke="#8a8a8a" stroke-width="1.3"/>
<circle cx="607" cy="204" r="2.7" fill="none" stroke="#8a8a8a" stroke-width="1.3"/>
<circle cx="430" cy="328.6" r="2.8" fill="#606060"/>
<circle cx="451.5" cy="321" r="2.8" fill="#606060"/>
<circle cx="473.5" cy="326.8" r="2.8" fill="#606060"/>
<circle cx="495.1" cy="326.8" r="2.8" fill="#606060"/>
<circle cx="517.2" cy="333.4" r="2.8" fill="#606060"/>
<circle cx="539" cy="322.9" r="2.8" fill="#606060"/>
<circle cx="560.9" cy="317.7" r="2.8" fill="#606060"/>
<circle cx="582.6" cy="271.7" r="2.8" fill="#606060"/>
<circle cx="607" cy="186.8" r="2.8" fill="#606060"/>
<path d="M430,304.9 L430,313.4 M427.7,304.9 L432.3,304.9 M427.7,313.4 L432.3,313.4" stroke="#0000FF" stroke-width="1.2" fill="none"/>
<path d="M451.5,318.6 L451.5,334.7 M449.2,318.6 L453.8,318.6 M449.2,334.7 L453.8,334.7" stroke="#0000FF" stroke-width="1.2" fill="none"/>
<path d="M517.2,271.2 L517.2,280.2 M514.9000000000001,271.2 L519.5,271.2 M514.9000000000001,280.2 L519.5,280.2" stroke="#0000FF" stroke-width="1.2" fill="none"/>
<path d="M539,263.6 L539,275.1 M536.7,263.6 L541.3,263.6 M536.7,275.1 L541.3,275.1" stroke="#0000FF" stroke-width="1.2" fill="none"/>
<path d="M560.9,256.1 L560.9,269.4 M558.6,256.1 L563.1999999999999,256.1 M558.6,269.4 L563.1999999999999,269.4" stroke="#0000FF" stroke-width="1.2" fill="none"/>
<path d="M582.6,234.8 L582.6,239.5 M580.3000000000001,234.8 L584.9,234.8 M580.3000000000001,239.5 L584.9,239.5" stroke="#0000FF" stroke-width="1.2" fill="none"/>
<circle cx="430" cy="309.2" r="3.0" fill="#0000FF"/>
<circle cx="451.5" cy="327.2" r="3.0" fill="#0000FF"/>
<circle cx="473.5" cy="313.6" r="3.0" fill="#0000FF"/>
<circle cx="495.1" cy="289.4" r="3.0" fill="#0000FF"/>
<circle cx="517.2" cy="275.7" r="3.0" fill="#0000FF"/>
<circle cx="539" cy="269.3" r="3.0" fill="#0000FF"/>
<circle cx="560.9" cy="262.7" r="3.0" fill="#0000FF"/>
<circle cx="582.6" cy="237" r="3.0" fill="#0000FF"/>
<circle cx="607" cy="191.6" r="3.0" fill="#0000FF"/>
</g>
<text x="673.77" y="166" font-size="19.6" fill="#000" textLength="155.21" lengthAdjust="spacingAndGlyphs">αCDH17-Henlius-</text>
<text x="672.96" y="188.1" font-size="19.6" fill="#000" textLength="131.92" lengthAdjust="spacingAndGlyphs">Linker Payload</text>
<text x="673.86" y="218.7" font-size="19.6" fill="#000" textLength="165.88" lengthAdjust="spacingAndGlyphs">αCDH17-GGFG-DXd</text>
<text x="673.23" y="249.2" font-size="19.6" fill="#000" textLength="133.36" lengthAdjust="spacingAndGlyphs">hIgG1-Henlius-</text>
<text x="672.97" y="271.5" font-size="19.6" fill="#000" textLength="131.61" lengthAdjust="spacingAndGlyphs">Linker Payload</text>
<text x="673.22" y="299.2" font-size="19.6" fill="#000" textLength="164.46" lengthAdjust="spacingAndGlyphs">hIgG1-GGFG-DXd</text>
<path d="M652,171.4 L666.5,171.4" stroke="#FF2020" stroke-width="1.2"/><circle cx="659.3" cy="171.4" r="2.3" fill="#FF0000"/>
<path d="M652,213.7 L666.5,213.7" stroke="#0000FF" stroke-width="1.2"/><circle cx="659.3" cy="213.6" r="2.8" fill="#0000FF"/>
<path d="M651,255.1 L666,255.1" stroke="#8a8a8a" stroke-width="1.2"/><circle cx="658.5" cy="255.1" r="2.5" fill="#fff" stroke="#8a8a8a" stroke-width="1.3"/>
<path d="M651,294.9 L666,294.9" stroke="#606060" stroke-width="1.2"/><circle cx="658.5" cy="294.9" r="2.7" fill="#606060"/>
<text x="4.18" y="422.7" font-size="17.6" font-weight="bold" fill="#000" stroke="#000" stroke-width="0.4" textLength="75.77" lengthAdjust="spacingAndGlyphs">Figure 2.</text>
<text x="85.49" y="422.7" font-size="17.6" fill="#000" textLength="58.61" lengthAdjust="spacingAndGlyphs">CDH17</text>
<text x="145.18" y="417.2" font-size="12" fill="#000" textLength="6.25" lengthAdjust="spacingAndGlyphs">+</text>
<text x="157.23" y="422.7" font-size="17.6" fill="#000" textLength="423.49" lengthAdjust="spacingAndGlyphs">adherent AsPC-1 cells were co-cultured with CDH17</text>
<text x="580.64" y="418.2" font-size="11" fill="#000" textLength="4.23" lengthAdjust="spacingAndGlyphs">-</text>
<text x="588.39" y="422.7" font-size="17.6" fill="#000" textLength="223.78" lengthAdjust="spacingAndGlyphs">suspension Jurkat cells and</text>
<text x="4.52" y="444.3" font-size="17.6" fill="#000" textLength="750.99" lengthAdjust="spacingAndGlyphs">treated with the indicated ADCs for 96 hours. and Jurkat cell viability was quantified using the</text>
<text x="4.27" y="465.9" font-size="17.6" fill="#000" textLength="645.19" lengthAdjust="spacingAndGlyphs">CellTiter-Glo (CTG) assay to evaluate the bystander killing activity of each ADC.</text>
<rect x="0" y="473.6" width="850" height="2.4" fill="#FDEFE2"/>
</svg></body></html>
